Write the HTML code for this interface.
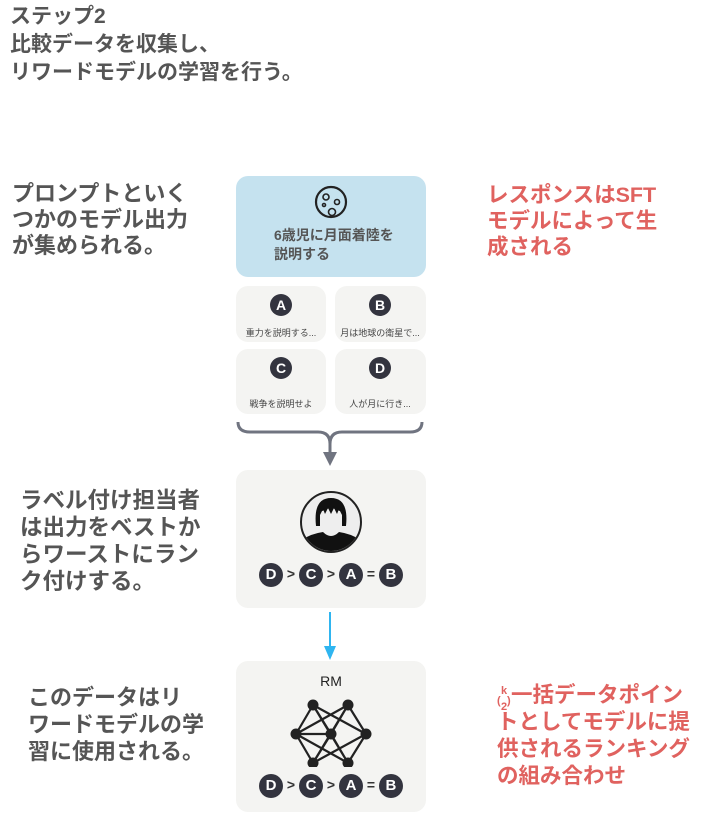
<!DOCTYPE html><html><head><meta charset="utf-8"><style>
body{margin:0;width:718px;height:819px;background:#fff;position:relative;font-family:"Liberation Sans","Noto Sans CJK JP",sans-serif;overflow:hidden}
.t{position:absolute;font-weight:bold;color:#555;font-size:22px;line-height:26px;white-space:nowrap}
.r{color:#e0625f}
.box{position:absolute;background:#f4f4f2;border-radius:12px}
.c{position:absolute;width:22px;height:22px;border-radius:50%;background:#33343f;color:#fff;font-weight:bold;font-size:14px;line-height:22px;text-align:center}
.s{position:absolute;font-size:9px;color:#444;width:90px;text-align:center}
.rank{position:absolute;left:0;width:190px;text-align:center;font-weight:bold;color:#333;font-size:14px}
.rank span.c{position:static;display:inline-block;vertical-align:middle;width:24px;height:24px;line-height:24px;font-size:15px}
</style></head><body>
<div class="t" style="left:10px;top:3px;line-height:28px;font-size:21px">ステップ2<br>比較データを収集し、<br>リワードモデルの学習を行う。</div>
<div class="t" style="left:12px;top:181px">プロンプトといく<br>つかのモデル出力<br>が集められる。</div>
<div class="t" style="left:20px;top:487px;line-height:27px;font-size:22.5px">ラベル付け担当者<br>は出力をベストか<br>らワーストにラン<br>ク付けする。</div>
<div class="t" style="left:28px;top:684px;line-height:27px">このデータはリ<br>ワードモデルの学<br>習に使用される。</div>
<div class="t r" style="left:487px;top:182px;line-height:26px;font-size:21.5px">レスポンスはSFT<br>モデルによって生<br>成される</div>
<div class="t r" style="left:497px;top:682px;line-height:27px;font-size:21.5px"><span style="font-size:11px;position:relative;display:inline-block;width:14px;height:20px;vertical-align:top"><span style="position:absolute;left:4px;top:-4px">k</span><span style="position:absolute;left:0;top:6px">(</span><span style="position:absolute;left:4px;top:12px">2</span><span style="position:absolute;left:10px;top:6px">)</span></span>一括データポイン<br>トとしてモデルに提<br>供されるランキング<br>の組み合わせ</div>

<div class="box" style="left:236px;top:176px;width:190px;height:101px;background:#c5e2ef">
<svg style="position:absolute;left:78px;top:9px" width="34" height="34"><circle cx="17" cy="17" r="15" fill="none" stroke="#222" stroke-width="2.2"/><circle cx="12" cy="12" r="3" fill="none" stroke="#222" stroke-width="1.6"/><circle cx="23" cy="17" r="2.5" fill="none" stroke="#222" stroke-width="1.6"/><circle cx="10" cy="20" r="1.5" fill="none" stroke="#222" stroke-width="1.6"/><circle cx="18" cy="27" r="3.5" fill="none" stroke="#222" stroke-width="1.6"/></svg>
<div style="position:absolute;left:38px;top:50px;font-size:14px;font-weight:bold;color:#555;line-height:19px">6歳児に月面着陸を<br>説明する</div></div>
<div class="box" style="left:236px;top:286px;width:90px;height:56px"><div class="c" style="left:34px;top:8px">A</div><div class="s" style="top:40px">重力を説明する...</div></div>
<div class="box" style="left:335px;top:286px;width:91px;height:56px"><div class="c" style="left:34px;top:8px">B</div><div class="s" style="top:40px">月は地球の衛星で...</div></div>
<div class="box" style="left:236px;top:349px;width:90px;height:65px"><div class="c" style="left:34px;top:8px">C</div><div class="s" style="top:48px">戦争を説明せよ</div></div>
<div class="box" style="left:335px;top:349px;width:91px;height:65px"><div class="c" style="left:34px;top:8px">D</div><div class="s" style="top:48px">人が月に行き...</div></div>
<svg style="position:absolute;left:230px;top:418px" width="200" height="50"><path d="M8 4 Q8 14 20 14 L88 14 Q100 14 100 26 Q100 14 112 14 L180 14 Q192 14 192 4" fill="none" stroke="#707480" stroke-width="3"/><line x1="100" y1="24" x2="100" y2="36" stroke="#707480" stroke-width="3"/><polygon points="93,34 107,34 100,48" fill="#707480"/></svg>

<div class="box" style="left:236px;top:470px;width:190px;height:138px">
<svg style="position:absolute;left:63px;top:20px" width="64" height="64"><circle cx="32" cy="32" r="30" fill="#eee" stroke="#222" stroke-width="2"/><clipPath id="cl"><circle cx="32" cy="32" r="29"/></clipPath><g clip-path="url(#cl)"><path d="M0 64 L0 52 Q10 44 24 42 L40 42 Q54 44 64 52 L64 64Z" fill="#111"/><path d="M24 42 Q32 50 40 42Z" fill="#eee"/><path d="M17 36 Q14 8 32 8 Q50 8 47 36 L43 36 L43 22 Q32 16 21 22 L21 36Z" fill="#111"/><ellipse cx="32" cy="30" rx="10" ry="12" fill="#eee"/><path d="M21 22 Q32 10 43 22 L43 25 L40 19 L38 24 L35 18 L32 24 L29 18 L26 24 L24 19 L21 25Z" fill="#111"/></g></svg>
<div class="rank" style="top:93px"><span class="c">D</span> &gt; <span class="c">C</span> &gt; <span class="c">A</span> = <span class="c">B</span></div></div>
<svg style="position:absolute;left:320px;top:610px" width="20" height="52"><line x1="10" y1="2" x2="10" y2="38" stroke="#2fb5f0" stroke-width="2"/><polygon points="4,36 16,36 10,50" fill="#2fb5f0"/></svg>

<div class="box" style="left:236px;top:661px;width:190px;height:151px">
<div style="position:absolute;left:0;width:190px;top:12px;text-align:center;font-size:14px;color:#222">RM</div>
<svg style="position:absolute;left:52px;top:30px" width="86" height="76"><g stroke="#222" stroke-width="2.2"><path d="M8 43 L25 14 M8 43 L25 72 M8 43 L43 43 M8 43 L60 14 M8 43 L60 72 M25 14 L60 72 M25 14 L43 43 M25 14 L78 43 M60 14 L25 72 M60 14 L43 43 M60 14 L78 43 M78 43 L60 72 M78 43 L25 72 M43 43 L25 72 M43 43 L60 72"/></g><g fill="#222"><circle cx="8" cy="43" r="5.5"/><circle cx="43" cy="43" r="5.5"/><circle cx="78" cy="43" r="5.5"/><circle cx="25" cy="14" r="5.5"/><circle cx="60" cy="14" r="5.5"/><circle cx="25" cy="72" r="5.5"/><circle cx="60" cy="72" r="5.5"/></g></svg>
<div class="rank" style="top:113px"><span class="c">D</span> &gt; <span class="c">C</span> &gt; <span class="c">A</span> = <span class="c">B</span></div></div>
</body></html>
